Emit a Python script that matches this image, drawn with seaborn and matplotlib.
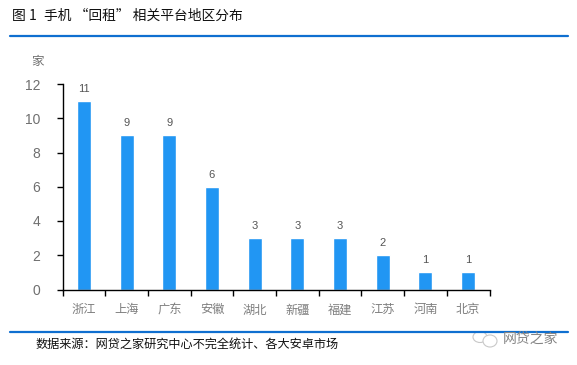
import matplotlib
matplotlib.use("Agg")
import matplotlib.pyplot as plt
from matplotlib.patches import Ellipse, Rectangle
from matplotlib.lines import Line2D
import seaborn as sns
import pandas as pd

regions = ["浙江", "上海", "广东", "安徽", "湖北", "新疆", "福建", "江苏", "河南", "北京"]
counts = [11, 9, 9, 6, 3, 3, 3, 2, 1, 1]
y_ticks = [0, 2, 4, 6, 8, 10, 12]

title_num = "图 1"
title = "手机 “回租” 相关平台地区分布"
unit = "家"
source = "数据来源：网贷之家研究中心不完全统计、各大安卓市场"
watermark = "网贷之家"

sns.set_theme(style="white")
plt.rcParams['font.family'] = ['Noto Sans CJK SC', 'DejaVu Sans']

W, H = 577, 365
df = pd.DataFrame({"region": regions, "count": counts})

fig = plt.figure(figsize=(W / 100, H / 100), dpi=100)
ax = fig.add_axes([62.5 / W, (H - 289.5) / H, 427 / W, 205.5 / H])
sns.barplot(data=df, x="region", y="count", color="#2196F3", saturation=1, width=0.33, ax=ax)

ax.set_xlim(-0.5, len(regions) - 0.5)
ax.set_ylim(0, 12)
ax.set_yticks(y_ticks)
ax.set_xlabel("")
ax.set_ylabel("")
ax.set_xticks([i - 0.5 for i in range(len(regions) + 1)], minor=True)
ax.tick_params(axis="x", which="major", length=0, pad=10, labelsize=8.8, labelcolor="#7f7f7f")
ax.tick_params(axis="x", which="minor", length=4, width=1, color="black", direction="out", bottom=True)
ax.tick_params(axis="y", length=4, width=1, color="black", direction="out", left=True, pad=12,
               labelsize=10, labelcolor="#6f6f6f")
for lab in ax.get_yticklabels():
    lab.set_family("Liberation Sans")
sns.despine(ax=ax)
for side in ["left", "bottom"]:
    ax.spines[side].set_color("black")
    ax.spines[side].set_linewidth(1)

for c in ax.containers:
    for t in ax.bar_label(c, padding=5, fontsize=8, color="#555555"):
        t.set_family("Liberation Sans")

def px(x, y):
    return x / W, 1 - y / H

# blue rules
for y in [36, 332]:
    fig.add_artist(Line2D([10 / W, 568 / W], [1 - y / H] * 2, color="#0F6FD0", lw=1.6))

x, y = px(12, 16)
fig.text(x, y, title_num, fontsize=10, color="#111111", va="center", ha="left")
x, y = px(44, 16)
fig.text(x, y, title, fontsize=9.9, color="#111111", va="center", ha="left")
x, y = px(31, 61)
fig.text(x, y, unit, fontsize=9, color="#6f6f6f", va="center", ha="left")
x, y = px(36, 344)
fig.text(x, y, source, fontsize=8.75, color="#111111", va="center", ha="left", fontweight="medium")

# watermark, sits over the lower rule
fig.add_artist(Rectangle((472 / W, 1 - 333 / H), 26 / W, 3 / H, color="white", transform=fig.transFigure))
for cx, cy, w, h in [(480, 337, 14, 11), (490, 341, 14, 12)]:
    fig.add_artist(Ellipse(px(cx, cy), w / W, h / H, fill=True, facecolor="white", edgecolor="#c8c8c8",
                           lw=0.8, transform=fig.transFigure))
x, y = px(503, 339)
fig.text(x, y, watermark, fontsize=10, color="#858585", va="center", ha="left")

fig.savefig("out.png", dpi=100)
